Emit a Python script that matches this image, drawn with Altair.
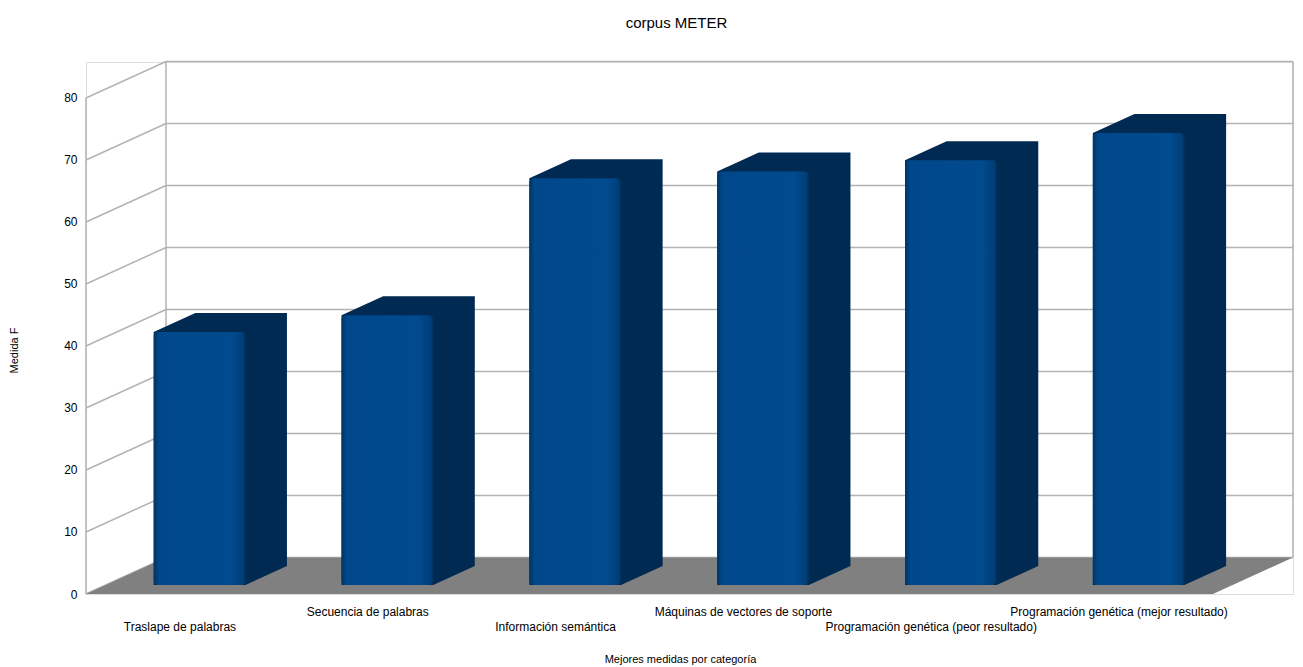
import altair as alt
import pandas as pd

# ---- data ----
categorias = [
    "Traslape de palabras",
    "Secuencia de palabras",
    "Información semántica",
    "Máquinas de vectores de soporte",
    "Programación genética (peor resultado)",
    "Programación genética (mejor resultado)",
]
medida_f = [40.8, 43.5, 65.6, 66.7, 68.5, 72.9]
y_ticks = [0, 10, 20, 30, 40, 50, 60, 70, 80]

# ---- pseudo-3D geometry (data units: category index / value) ----
DX = 0.426        # depth shift along x (category units)
DY = 5.89         # depth shift along y (value units)
HALF = 0.244      # half width of bar front face
Z_FRONT = 0.245   # depth of bar front face (fraction of floor depth)
Z_DEPTH = 0.52    # bar depth (fraction of floor depth)
X_MIN = -0.5
X_MAX = len(categorias) - 0.5
Y_TOP = 85.806
Y_MAX_TICK = max(y_ticks)

FONT = "Liberation Sans"
GRID = "#b3b3b3"

xs = alt.Scale(domain=[X_MIN, X_MAX + DX], nice=False, zero=False)
ys = alt.Scale(domain=[0, Y_TOP], nice=False, zero=False)
x_axis = alt.Axis(labels=False, ticks=False, domain=False, grid=False,
                  title="Mejores medidas por categoría", titleFont=FONT,
                  titleFontSize=11, titleFontWeight="normal", titleColor="#000000",
                  titleX=594, titleY=65, titleAlign="center", titleBaseline="middle")
y_axis = alt.Axis(values=y_ticks, ticks=False, domain=False, grid=False,
                  labelFont=FONT, labelFontSize=12, labelColor="#000000", labelPadding=9,
                  title="Medida F", titleFont=FONT, titleFontSize=11,
                  titleFontWeight="normal", titleColor="#000000",
                  titleX=-72, titleY=288, titleAlign="center", titleBaseline="middle",
                  titleAngle=270)


def X(f):
    return alt.X(f, type="quantitative", scale=xs, axis=x_axis)


def Y(f):
    return alt.Y(f, type="quantitative", scale=ys, axis=y_axis)


# ---- walls: grid lines ----
rules = []
for t in y_ticks:
    rules.append({"x": X_MIN + DX, "x2": X_MAX + DX, "y": t + DY, "y2": t + DY})
    rules.append({"x": X_MIN, "x2": X_MIN + DX, "y": t, "y2": t + DY})
rules.append({"x": X_MIN, "x2": X_MIN, "y": 0, "y2": Y_MAX_TICK})
rules.append({"x": X_MIN + DX, "x2": X_MIN + DX, "y": DY, "y2": Y_MAX_TICK + DY})
rules.append({"x": X_MAX + DX, "x2": X_MAX + DX, "y": DY, "y2": Y_MAX_TICK + DY})
rules_df = pd.DataFrame(rules)

walls = alt.Chart(rules_df).mark_rule(color=GRID, strokeWidth=1.5).encode(
    x=X("x"), x2=alt.X2("x2"), y=Y("y"), y2=alt.Y2("y2")
)

# ---- floor ----
floor_df = pd.DataFrame({
    "x": [X_MIN, X_MIN + DX, X_MAX, X_MAX + DX],
    "y": [0, 0, 0, DY],
    "y2": [0, DY, DY, DY],
})
floor = alt.Chart(floor_df).mark_area(color="#808080", opacity=1, interpolate="linear").encode(
    x=X("x"), y=Y("y"), y2=alt.Y2("y2")
)

# ---- bars: dark body (top + side) ----
bdx = Z_DEPTH * DX
bdy = Z_DEPTH * DY
base = Z_FRONT * DY
body_rows = []
front_rows = []
for i, (c, v) in enumerate(zip(categorias, medida_f)):
    xl = i - HALF + Z_FRONT * DX
    xr = i + HALF + Z_FRONT * DX
    top = v + base
    body_rows += [
        {"bar": c, "x": xl, "y": base, "y2": top},
        {"bar": c, "x": xl + bdx, "y": base, "y2": top + bdy},
        {"bar": c, "x": xr, "y": base, "y2": top + bdy},
        {"bar": c, "x": xr + bdx, "y": base + bdy, "y2": top + bdy},
    ]
    front_rows.append({"bar": c, "x": xl, "x2": xr, "y": base, "y2": top, "valor": v})
body_df = pd.DataFrame(body_rows)
front_df = pd.DataFrame(front_rows)

body = alt.Chart(body_df).mark_area(color="#002a52", opacity=1, interpolate="linear").encode(
    x=X("x"), y=Y("y"), y2=alt.Y2("y2"), detail="bar:N"
)

grad = alt.Gradient(
    gradient="linear", x1=0, x2=1, y1=0, y2=0,
    stops=[
        alt.GradientStop(color="#003566", offset=0),
        alt.GradientStop(color="#00488b", offset=0.06),
        alt.GradientStop(color="#004a8d", offset=0.85),
        alt.GradientStop(color="#003e78", offset=0.97),
        alt.GradientStop(color="#00325f", offset=1),
    ],
)
front = alt.Chart(front_df).mark_rect(color=grad, cornerRadius=4).encode(
    x=X("x"), x2=alt.X2("x2"), y=Y("y"), y2=alt.Y2("y2")
)

# ---- category labels (staggered in two rows) ----
lab_df = pd.DataFrame({
    "x": list(range(len(categorias))),
    "y": [0] * len(categorias),
    "nombre": categorias,
    "fila": [i % 2 for i in range(len(categorias))],
})
lab_low = alt.Chart(lab_df).transform_filter("datum.fila == 0").mark_text(
    font=FONT, fontSize=12, color="#000000", align="center", baseline="middle", dy=33
).encode(x=X("x"), y=Y("y"), text="nombre:N")
lab_high = alt.Chart(lab_df).transform_filter("datum.fila == 1").mark_text(
    font=FONT, fontSize=12, color="#000000", align="center", baseline="middle", dy=18
).encode(x=X("x"), y=Y("y"), text="nombre:N")

chart = alt.layer(walls, floor, body, front, lab_low, lab_high).properties(
    width=1207,
    height=532,
    autosize=alt.AutoSizeParams(type="none"),
    padding={"left": 86, "top": 62, "right": 10, "bottom": 73},
    title=alt.TitleParams(
        "corpus METER", font=FONT, fontSize=15, fontWeight="normal", color="#000000",
        anchor="middle", frame="group", dx=-13, offset=30,
    ),
).configure_view(strokeWidth=0, stroke="transparent").configure(background="white")

chart.save("out.html", embed_options={"renderer": "svg", "actions": False})
